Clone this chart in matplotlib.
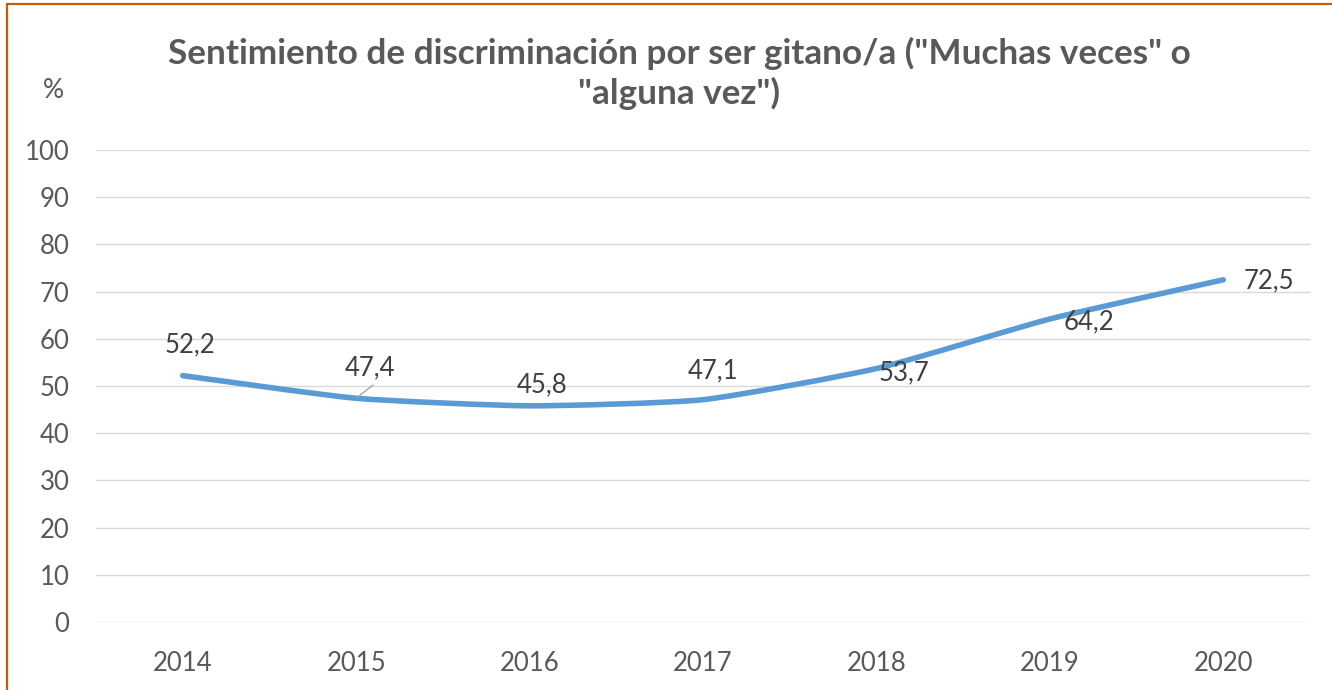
import matplotlib
matplotlib.use('Agg')
import matplotlib.pyplot as plt
from matplotlib.path import Path
from matplotlib.patches import PathPatch, Rectangle

# data
years = ['2014', '2015', '2016', '2017', '2018', '2019', '2020']
values = [52.2, 47.4, 45.8, 47.1, 53.7, 64.2, 72.5]
labels = ['52,2', '47,4', '45,8', '47,1', '53,7', '64,2', '72,5']
yticks = [0, 10, 20, 30, 40, 50, 60, 70, 80, 90, 100]

# label offsets in points (where Excel put them)
offsets = [(5, 22), (10, 22), (9, 15), (7, 21), (20, -3), (28, -2), (33, -1)]

plt.rcParams['font.family'] = ['Lato', 'DejaVu Sans']

fig = plt.figure(figsize=(13.32, 6.90), dpi=100)
ax = fig.add_axes([96/1332, 1-622/690, (1310-96)/1332, (622-150)/690])

# lightly smoothed line like Excel (cubic bezier through the points)
x = list(range(len(values)))
verts = [(x[0], values[0])]
codes = [Path.MOVETO]
t = 0.09
for i in range(len(values)-1):
	p0 = (x[max(i-1, 0)], values[max(i-1, 0)])
	p1 = (x[i], values[i])
	p2 = (x[i+1], values[i+1])
	p3 = (x[min(i+2, len(x)-1)], values[min(i+2, len(x)-1)])
	c1 = (p1[0] + (p2[0]-p0[0])*t, p1[1] + (p2[1]-p0[1])*t)
	c2 = (p2[0] - (p3[0]-p1[0])*t, p2[1] - (p3[1]-p1[1])*t)
	verts += [c1, c2, p2]
	codes += [Path.CURVE4]*3
ax.add_patch(PathPatch(Path(verts, codes), facecolor='none', edgecolor='#5B9BD5',
	linewidth=4.0, capstyle='round', joinstyle='round', zorder=3))

for i in range(len(values)):
	ax.annotate(labels[i], xy=(x[i], values[i]), xytext=offsets[i], textcoords='offset points',
		ha='center', va='center', fontsize=18.5, color='#404040')

# leader line for the 2015 label
ax.annotate('', xy=(x[1], values[1]), xytext=(12, 9.5), textcoords='offset points',
	arrowprops=dict(arrowstyle='-', color='#A6A6A6', lw=1.0, shrinkA=0, shrinkB=1))

ax.set_xlim(-0.5, len(values)-0.5)
ax.set_ylim(0, 100)
ax.set_xticks(x)
ax.set_xticklabels(years)
ax.set_yticks(yticks)
ax.grid(axis='y', color='#D9D9D9', linewidth=1.0)
ax.set_axisbelow(True)
for s in ax.spines.values():
	s.set_visible(False)
ax.tick_params(axis='both', length=0, labelsize=18.5, labelcolor='#595959')
ax.tick_params(axis='x', pad=21)
ax.tick_params(axis='y', pad=19)

fig.text(53/1332, 1-90/690, '%', fontsize=19, color='#595959', ha='center', va='center')
fig.text(679/1332, 1-73/690, 'Sentimiento de discriminación por ser gitano/a ("Muchas veces" o\n"alguna vez")',
	fontsize=25.3, fontweight='bold', color='#595959', ha='center', va='center', linespacing=1.25)

# orange frame around the chart
fig.patches.append(Rectangle((7/1332, -0.1), 1.2, 1.1-4/690, transform=fig.transFigure,
	fill=False, edgecolor='#C55A11', linewidth=1.6))

fig.savefig('out.png', dpi=100)
